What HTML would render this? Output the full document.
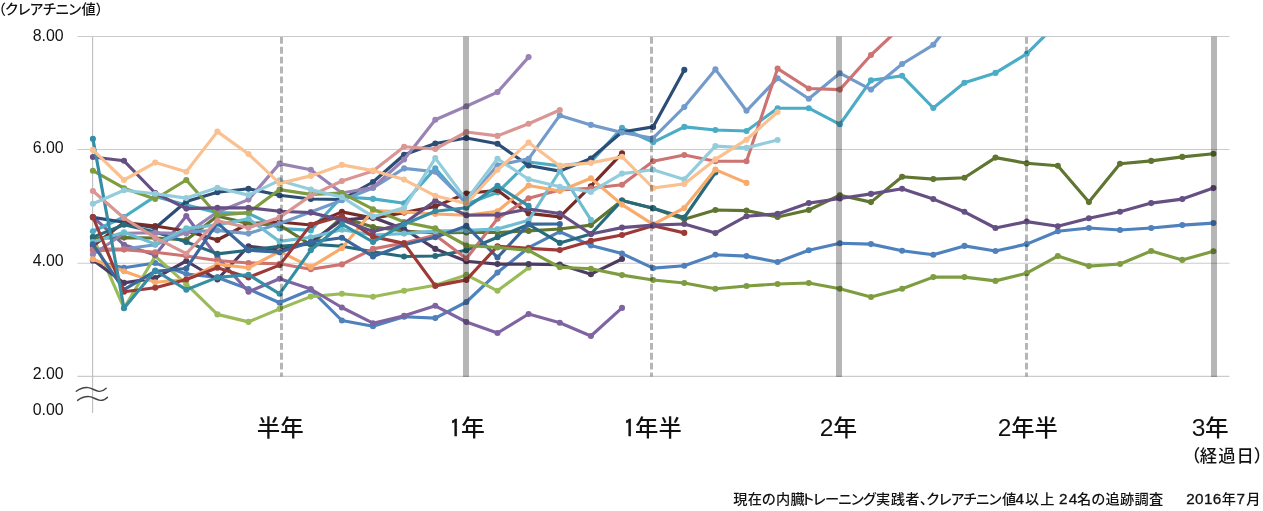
<!DOCTYPE html>
<html lang="ja"><head><meta charset="utf-8"><title>クレアチニン値</title>
<style>
html,body{margin:0;padding:0;background:#fff}
body{width:1263px;height:511px;overflow:hidden;font-family:"Liberation Sans","Noto Sans CJK JP",sans-serif}
svg{display:block}
text{fill:#111}
.jp{font-family:"Liberation Sans","Noto Sans CJK JP",sans-serif}
.num{font-family:"Liberation Sans","Noto Sans CJK JP",sans-serif}
</style></head><body>
<svg width="1263" height="511" viewBox="0 0 1263 511">
<defs><clipPath id="plot"><rect x="70" y="36.5" width="1180" height="360"/></clipPath></defs>
<rect width="1263" height="511" fill="#fff"/>
<line x1="77.5" x2="1229.5" y1="36.5" y2="36.5" stroke="#cbcbcb" stroke-width="1.1"/>
<line x1="77.5" x2="1229.5" y1="149.5" y2="149.5" stroke="#cbcbcb" stroke-width="1.1"/>
<line x1="77.5" x2="1229.5" y1="263.2" y2="263.2" stroke="#cbcbcb" stroke-width="1.1"/>
<line x1="77.5" x2="1229.5" y1="376.4" y2="376.4" stroke="#cbcbcb" stroke-width="1.1"/>
<line x1="92.6" x2="92.6" y1="36.5" y2="413" stroke="#bdbdbd" stroke-width="1.1"/>
<g clip-path="url(#plot)" fill="none" stroke-width="3.15" stroke-linejoin="round" stroke-linecap="round">
<g stroke="#4F81BD" fill="#4F81BD"><polyline fill="none" points="92.9,261.0 124.0,267.8 155.2,263.0 186.3,274.0 217.4,277.4 248.5,289.0 279.6,302.7 310.8,289.7 341.9,320.5 373.0,326.3 404.1,316.8 435.3,318.1 466.4,302.0 497.5,272.6 528.6,247.7 559.8,231.7 590.9,245.4 622.0,253.6 653.1,268.1 684.3,265.8 715.4,254.8 746.5,256.1 777.6,262.0 808.8,250.2 839.9,243.3 871.0,244.1 902.1,250.7 933.3,254.8 964.4,245.9 995.5,251.0 1026.7,244.1 1057.8,231.3 1088.9,228.0 1120.0,230.0 1151.2,228.0 1182.3,225.1 1213.4,223.1"/><circle cx="92.9" cy="261.0" r="3.05" stroke="none"/><circle cx="124.0" cy="267.8" r="3.05" stroke="none"/><circle cx="155.2" cy="263.0" r="3.05" stroke="none"/><circle cx="186.3" cy="274.0" r="3.05" stroke="none"/><circle cx="217.4" cy="277.4" r="3.05" stroke="none"/><circle cx="248.5" cy="289.0" r="3.05" stroke="none"/><circle cx="279.6" cy="302.7" r="3.05" stroke="none"/><circle cx="310.8" cy="289.7" r="3.05" stroke="none"/><circle cx="341.9" cy="320.5" r="3.05" stroke="none"/><circle cx="373.0" cy="326.3" r="3.05" stroke="none"/><circle cx="404.1" cy="316.8" r="3.05" stroke="none"/><circle cx="435.3" cy="318.1" r="3.05" stroke="none"/><circle cx="466.4" cy="302.0" r="3.05" stroke="none"/><circle cx="497.5" cy="272.6" r="3.05" stroke="none"/><circle cx="528.6" cy="247.7" r="3.05" stroke="none"/><circle cx="559.8" cy="231.7" r="3.05" stroke="none"/><circle cx="590.9" cy="245.4" r="3.05" stroke="none"/><circle cx="622.0" cy="253.6" r="3.05" stroke="none"/><circle cx="653.1" cy="268.1" r="3.05" stroke="none"/><circle cx="684.3" cy="265.8" r="3.05" stroke="none"/><circle cx="715.4" cy="254.8" r="3.05" stroke="none"/><circle cx="746.5" cy="256.1" r="3.05" stroke="none"/><circle cx="777.6" cy="262.0" r="3.05" stroke="none"/><circle cx="808.8" cy="250.2" r="3.05" stroke="none"/><circle cx="839.9" cy="243.3" r="3.05" stroke="none"/><circle cx="871.0" cy="244.1" r="3.05" stroke="none"/><circle cx="902.1" cy="250.7" r="3.05" stroke="none"/><circle cx="933.3" cy="254.8" r="3.05" stroke="none"/><circle cx="964.4" cy="245.9" r="3.05" stroke="none"/><circle cx="995.5" cy="251.0" r="3.05" stroke="none"/><circle cx="1026.7" cy="244.1" r="3.05" stroke="none"/><circle cx="1057.8" cy="231.3" r="3.05" stroke="none"/><circle cx="1088.9" cy="228.0" r="3.05" stroke="none"/><circle cx="1120.0" cy="230.0" r="3.05" stroke="none"/><circle cx="1151.2" cy="228.0" r="3.05" stroke="none"/><circle cx="1182.3" cy="225.1" r="3.05" stroke="none"/><circle cx="1213.4" cy="223.1" r="3.05" stroke="none"/></g>
<g stroke="#9BBB59" fill="#9BBB59"><polyline fill="none" points="92.9,237.0 124.0,308.0 155.2,256.2 186.3,284.2 217.4,314.4 248.5,321.9 279.6,308.9 310.8,296.6 341.9,293.8 373.0,296.8 404.1,290.7 435.3,285.3 466.4,274.9 497.5,290.8 528.6,267.8"/><circle cx="92.9" cy="237.0" r="3.05" stroke="none"/><circle cx="124.0" cy="308.0" r="3.05" stroke="none"/><circle cx="155.2" cy="256.2" r="3.05" stroke="none"/><circle cx="186.3" cy="284.2" r="3.05" stroke="none"/><circle cx="217.4" cy="314.4" r="3.05" stroke="none"/><circle cx="248.5" cy="321.9" r="3.05" stroke="none"/><circle cx="279.6" cy="308.9" r="3.05" stroke="none"/><circle cx="310.8" cy="296.6" r="3.05" stroke="none"/><circle cx="341.9" cy="293.8" r="3.05" stroke="none"/><circle cx="373.0" cy="296.8" r="3.05" stroke="none"/><circle cx="404.1" cy="290.7" r="3.05" stroke="none"/><circle cx="435.3" cy="285.3" r="3.05" stroke="none"/><circle cx="466.4" cy="274.9" r="3.05" stroke="none"/><circle cx="497.5" cy="290.8" r="3.05" stroke="none"/><circle cx="528.6" cy="267.8" r="3.05" stroke="none"/></g>
<g stroke="#8064A2" fill="#8064A2"><polyline fill="none" points="92.9,217.0 124.0,244.8 155.2,255.0 186.3,216.0 217.4,257.1 248.5,291.8 279.6,278.8 310.8,289.0 341.9,307.5 373.0,323.2 404.1,315.8 435.3,305.8 466.4,322.0 497.5,333.0 528.6,314.0 559.8,322.7 590.9,336.0 622.0,307.9"/><circle cx="92.9" cy="217.0" r="3.05" stroke="none"/><circle cx="124.0" cy="244.8" r="3.05" stroke="none"/><circle cx="155.2" cy="255.0" r="3.05" stroke="none"/><circle cx="186.3" cy="216.0" r="3.05" stroke="none"/><circle cx="217.4" cy="257.1" r="3.05" stroke="none"/><circle cx="248.5" cy="291.8" r="3.05" stroke="none"/><circle cx="279.6" cy="278.8" r="3.05" stroke="none"/><circle cx="310.8" cy="289.0" r="3.05" stroke="none"/><circle cx="341.9" cy="307.5" r="3.05" stroke="none"/><circle cx="373.0" cy="323.2" r="3.05" stroke="none"/><circle cx="404.1" cy="315.8" r="3.05" stroke="none"/><circle cx="435.3" cy="305.8" r="3.05" stroke="none"/><circle cx="466.4" cy="322.0" r="3.05" stroke="none"/><circle cx="497.5" cy="333.0" r="3.05" stroke="none"/><circle cx="528.6" cy="314.0" r="3.05" stroke="none"/><circle cx="559.8" cy="322.7" r="3.05" stroke="none"/><circle cx="590.9" cy="336.0" r="3.05" stroke="none"/><circle cx="622.0" cy="307.9" r="3.05" stroke="none"/></g>
<g stroke="#4BACC6" fill="#4BACC6"><polyline fill="none" points="92.9,231.2 124.0,217.0 155.2,196.4 186.3,205.0 217.4,212.6 248.5,213.3 279.6,228.4 310.8,230.4 341.9,196.8 373.0,198.9 404.1,203.3 435.3,168.4 466.4,204.0 497.5,192.5 528.6,162.0 559.8,165.9 590.9,162.0 622.0,127.9 653.1,142.3 684.3,126.9 715.4,130.0 746.5,131.0 777.6,108.2 808.8,108.2 839.9,124.3 871.0,80.4 902.1,75.8 933.3,108.0 964.4,82.7 995.5,72.9 1026.7,53.8 1057.8,22.8"/><circle cx="92.9" cy="231.2" r="3.05" stroke="none"/><circle cx="124.0" cy="217.0" r="3.05" stroke="none"/><circle cx="155.2" cy="196.4" r="3.05" stroke="none"/><circle cx="186.3" cy="205.0" r="3.05" stroke="none"/><circle cx="217.4" cy="212.6" r="3.05" stroke="none"/><circle cx="248.5" cy="213.3" r="3.05" stroke="none"/><circle cx="279.6" cy="228.4" r="3.05" stroke="none"/><circle cx="310.8" cy="230.4" r="3.05" stroke="none"/><circle cx="341.9" cy="196.8" r="3.05" stroke="none"/><circle cx="373.0" cy="198.9" r="3.05" stroke="none"/><circle cx="404.1" cy="203.3" r="3.05" stroke="none"/><circle cx="435.3" cy="168.4" r="3.05" stroke="none"/><circle cx="466.4" cy="204.0" r="3.05" stroke="none"/><circle cx="497.5" cy="192.5" r="3.05" stroke="none"/><circle cx="528.6" cy="162.0" r="3.05" stroke="none"/><circle cx="559.8" cy="165.9" r="3.05" stroke="none"/><circle cx="590.9" cy="162.0" r="3.05" stroke="none"/><circle cx="622.0" cy="127.9" r="3.05" stroke="none"/><circle cx="653.1" cy="142.3" r="3.05" stroke="none"/><circle cx="684.3" cy="126.9" r="3.05" stroke="none"/><circle cx="715.4" cy="130.0" r="3.05" stroke="none"/><circle cx="746.5" cy="131.0" r="3.05" stroke="none"/><circle cx="777.6" cy="108.2" r="3.05" stroke="none"/><circle cx="808.8" cy="108.2" r="3.05" stroke="none"/><circle cx="839.9" cy="124.3" r="3.05" stroke="none"/><circle cx="871.0" cy="80.4" r="3.05" stroke="none"/><circle cx="902.1" cy="75.8" r="3.05" stroke="none"/><circle cx="933.3" cy="108.0" r="3.05" stroke="none"/><circle cx="964.4" cy="82.7" r="3.05" stroke="none"/><circle cx="995.5" cy="72.9" r="3.05" stroke="none"/><circle cx="1026.7" cy="53.8" r="3.05" stroke="none"/><circle cx="1057.8" cy="22.8" r="3.05" stroke="none"/></g>
<g stroke="#2C4D75" fill="#2C4D75"><polyline fill="none" points="92.9,217.4 124.0,222.2 155.2,228.0 186.3,201.5 217.4,192.3 248.5,188.7 279.6,195.3 310.8,199.0 341.9,199.5 373.0,182.0 404.1,154.7 435.3,143.5 466.4,138.0 497.5,143.8 528.6,165.5 559.8,171.1 590.9,158.5 622.0,132.0 653.1,126.9 684.3,69.9"/><circle cx="92.9" cy="217.4" r="3.05" stroke="none"/><circle cx="124.0" cy="222.2" r="3.05" stroke="none"/><circle cx="155.2" cy="228.0" r="3.05" stroke="none"/><circle cx="186.3" cy="201.5" r="3.05" stroke="none"/><circle cx="217.4" cy="192.3" r="3.05" stroke="none"/><circle cx="248.5" cy="188.7" r="3.05" stroke="none"/><circle cx="279.6" cy="195.3" r="3.05" stroke="none"/><circle cx="310.8" cy="199.0" r="3.05" stroke="none"/><circle cx="341.9" cy="199.5" r="3.05" stroke="none"/><circle cx="373.0" cy="182.0" r="3.05" stroke="none"/><circle cx="404.1" cy="154.7" r="3.05" stroke="none"/><circle cx="435.3" cy="143.5" r="3.05" stroke="none"/><circle cx="466.4" cy="138.0" r="3.05" stroke="none"/><circle cx="497.5" cy="143.8" r="3.05" stroke="none"/><circle cx="528.6" cy="165.5" r="3.05" stroke="none"/><circle cx="559.8" cy="171.1" r="3.05" stroke="none"/><circle cx="590.9" cy="158.5" r="3.05" stroke="none"/><circle cx="622.0" cy="132.0" r="3.05" stroke="none"/><circle cx="653.1" cy="126.9" r="3.05" stroke="none"/><circle cx="684.3" cy="69.9" r="3.05" stroke="none"/></g>
<g stroke="#772C2A" fill="#772C2A"><polyline fill="none" points="92.9,246.0 124.0,222.6 155.2,226.0 186.3,231.0 217.4,240.0 248.5,223.5 279.6,222.0 310.8,225.0 341.9,211.9 373.0,218.1 404.1,212.6 435.3,206.4 466.4,193.5 497.5,190.3 528.6,213.4 559.8,216.9 590.9,186.2 622.0,153.3"/><circle cx="92.9" cy="246.0" r="3.05" stroke="none"/><circle cx="124.0" cy="222.6" r="3.05" stroke="none"/><circle cx="155.2" cy="226.0" r="3.05" stroke="none"/><circle cx="186.3" cy="231.0" r="3.05" stroke="none"/><circle cx="217.4" cy="240.0" r="3.05" stroke="none"/><circle cx="248.5" cy="223.5" r="3.05" stroke="none"/><circle cx="279.6" cy="222.0" r="3.05" stroke="none"/><circle cx="310.8" cy="225.0" r="3.05" stroke="none"/><circle cx="341.9" cy="211.9" r="3.05" stroke="none"/><circle cx="373.0" cy="218.1" r="3.05" stroke="none"/><circle cx="404.1" cy="212.6" r="3.05" stroke="none"/><circle cx="435.3" cy="206.4" r="3.05" stroke="none"/><circle cx="466.4" cy="193.5" r="3.05" stroke="none"/><circle cx="497.5" cy="190.3" r="3.05" stroke="none"/><circle cx="528.6" cy="213.4" r="3.05" stroke="none"/><circle cx="559.8" cy="216.9" r="3.05" stroke="none"/><circle cx="590.9" cy="186.2" r="3.05" stroke="none"/><circle cx="622.0" cy="153.3" r="3.05" stroke="none"/></g>
<g stroke="#5F7530" fill="#5F7530"><polyline fill="none" points="92.9,238.0 124.0,237.6 155.2,238.0 186.3,240.0 217.4,216.0 248.5,223.6 279.6,225.0 310.8,244.8 341.9,217.4 373.0,227.0 404.1,231.0 435.3,233.0 466.4,232.5 497.5,232.5 528.6,230.9 559.8,229.0 590.9,225.1 622.0,200.5 653.1,208.3 684.3,219.2 715.4,210.0 746.5,210.6 777.6,217.0 808.8,210.0 839.9,195.2 871.0,202.1 902.1,176.8 933.3,179.1 964.4,177.8 995.5,157.6 1026.7,163.2 1057.8,165.8 1088.9,202.1 1120.0,163.8 1151.2,160.9 1182.3,156.9 1213.4,153.8"/><circle cx="92.9" cy="238.0" r="3.05" stroke="none"/><circle cx="124.0" cy="237.6" r="3.05" stroke="none"/><circle cx="155.2" cy="238.0" r="3.05" stroke="none"/><circle cx="186.3" cy="240.0" r="3.05" stroke="none"/><circle cx="217.4" cy="216.0" r="3.05" stroke="none"/><circle cx="248.5" cy="223.6" r="3.05" stroke="none"/><circle cx="279.6" cy="225.0" r="3.05" stroke="none"/><circle cx="310.8" cy="244.8" r="3.05" stroke="none"/><circle cx="341.9" cy="217.4" r="3.05" stroke="none"/><circle cx="373.0" cy="227.0" r="3.05" stroke="none"/><circle cx="404.1" cy="231.0" r="3.05" stroke="none"/><circle cx="435.3" cy="233.0" r="3.05" stroke="none"/><circle cx="466.4" cy="232.5" r="3.05" stroke="none"/><circle cx="497.5" cy="232.5" r="3.05" stroke="none"/><circle cx="528.6" cy="230.9" r="3.05" stroke="none"/><circle cx="559.8" cy="229.0" r="3.05" stroke="none"/><circle cx="590.9" cy="225.1" r="3.05" stroke="none"/><circle cx="622.0" cy="200.5" r="3.05" stroke="none"/><circle cx="653.1" cy="208.3" r="3.05" stroke="none"/><circle cx="684.3" cy="219.2" r="3.05" stroke="none"/><circle cx="715.4" cy="210.0" r="3.05" stroke="none"/><circle cx="746.5" cy="210.6" r="3.05" stroke="none"/><circle cx="777.6" cy="217.0" r="3.05" stroke="none"/><circle cx="808.8" cy="210.0" r="3.05" stroke="none"/><circle cx="839.9" cy="195.2" r="3.05" stroke="none"/><circle cx="871.0" cy="202.1" r="3.05" stroke="none"/><circle cx="902.1" cy="176.8" r="3.05" stroke="none"/><circle cx="933.3" cy="179.1" r="3.05" stroke="none"/><circle cx="964.4" cy="177.8" r="3.05" stroke="none"/><circle cx="995.5" cy="157.6" r="3.05" stroke="none"/><circle cx="1026.7" cy="163.2" r="3.05" stroke="none"/><circle cx="1057.8" cy="165.8" r="3.05" stroke="none"/><circle cx="1088.9" cy="202.1" r="3.05" stroke="none"/><circle cx="1120.0" cy="163.8" r="3.05" stroke="none"/><circle cx="1151.2" cy="160.9" r="3.05" stroke="none"/><circle cx="1182.3" cy="156.9" r="3.05" stroke="none"/><circle cx="1213.4" cy="153.8" r="3.05" stroke="none"/></g>
<g stroke="#4D3B62" fill="#4D3B62"><polyline fill="none" points="92.9,260.0 124.0,282.9 155.2,278.1 186.3,261.0 217.4,279.5 248.5,246.2 279.6,250.0 310.8,242.0 341.9,220.0 373.0,217.4 404.1,229.0 435.3,248.9 466.4,261.2 497.5,264.1 528.6,264.1 559.8,264.6 590.9,274.2 622.0,259.0"/><circle cx="92.9" cy="260.0" r="3.05" stroke="none"/><circle cx="124.0" cy="282.9" r="3.05" stroke="none"/><circle cx="155.2" cy="278.1" r="3.05" stroke="none"/><circle cx="186.3" cy="261.0" r="3.05" stroke="none"/><circle cx="217.4" cy="279.5" r="3.05" stroke="none"/><circle cx="248.5" cy="246.2" r="3.05" stroke="none"/><circle cx="279.6" cy="250.0" r="3.05" stroke="none"/><circle cx="310.8" cy="242.0" r="3.05" stroke="none"/><circle cx="341.9" cy="220.0" r="3.05" stroke="none"/><circle cx="373.0" cy="217.4" r="3.05" stroke="none"/><circle cx="404.1" cy="229.0" r="3.05" stroke="none"/><circle cx="435.3" cy="248.9" r="3.05" stroke="none"/><circle cx="466.4" cy="261.2" r="3.05" stroke="none"/><circle cx="497.5" cy="264.1" r="3.05" stroke="none"/><circle cx="528.6" cy="264.1" r="3.05" stroke="none"/><circle cx="559.8" cy="264.6" r="3.05" stroke="none"/><circle cx="590.9" cy="274.2" r="3.05" stroke="none"/><circle cx="622.0" cy="259.0" r="3.05" stroke="none"/></g>
<g stroke="#276A7C" fill="#276A7C"><polyline fill="none" points="92.9,237.1 124.0,224.8 155.2,232.0 186.3,242.0 217.4,253.9 248.5,250.3 279.6,246.2 310.8,244.1 341.9,246.2 373.0,251.8 404.1,256.5 435.3,256.0 466.4,250.3 497.5,237.3 528.6,224.5 559.8,242.9 590.9,234.0 622.0,200.5 653.1,208.2 684.3,217.5 715.4,172.5"/><circle cx="92.9" cy="237.1" r="3.05" stroke="none"/><circle cx="124.0" cy="224.8" r="3.05" stroke="none"/><circle cx="155.2" cy="232.0" r="3.05" stroke="none"/><circle cx="186.3" cy="242.0" r="3.05" stroke="none"/><circle cx="217.4" cy="253.9" r="3.05" stroke="none"/><circle cx="248.5" cy="250.3" r="3.05" stroke="none"/><circle cx="279.6" cy="246.2" r="3.05" stroke="none"/><circle cx="310.8" cy="244.1" r="3.05" stroke="none"/><circle cx="341.9" cy="246.2" r="3.05" stroke="none"/><circle cx="373.0" cy="251.8" r="3.05" stroke="none"/><circle cx="404.1" cy="256.5" r="3.05" stroke="none"/><circle cx="435.3" cy="256.0" r="3.05" stroke="none"/><circle cx="466.4" cy="250.3" r="3.05" stroke="none"/><circle cx="497.5" cy="237.3" r="3.05" stroke="none"/><circle cx="528.6" cy="224.5" r="3.05" stroke="none"/><circle cx="559.8" cy="242.9" r="3.05" stroke="none"/><circle cx="590.9" cy="234.0" r="3.05" stroke="none"/><circle cx="622.0" cy="200.5" r="3.05" stroke="none"/><circle cx="653.1" cy="208.2" r="3.05" stroke="none"/><circle cx="684.3" cy="217.5" r="3.05" stroke="none"/><circle cx="715.4" cy="172.5" r="3.05" stroke="none"/></g>
<g stroke="#729ACA" fill="#729ACA"><polyline fill="none" points="92.9,249.0 124.0,249.0 155.2,244.8 186.3,232.0 217.4,230.4 248.5,233.6 279.6,223.6 310.8,212.0 341.9,200.3 373.0,188.0 404.1,168.4 435.3,171.8 466.4,202.6 497.5,165.3 528.6,158.8 559.8,115.4 590.9,124.9 622.0,132.5 653.1,138.2 684.3,107.0 715.4,69.4 746.5,110.8 777.6,78.3 808.8,98.8 839.9,73.2 871.0,89.6 902.1,64.0 933.3,44.8 964.4,5.0"/><circle cx="92.9" cy="249.0" r="3.05" stroke="none"/><circle cx="124.0" cy="249.0" r="3.05" stroke="none"/><circle cx="155.2" cy="244.8" r="3.05" stroke="none"/><circle cx="186.3" cy="232.0" r="3.05" stroke="none"/><circle cx="217.4" cy="230.4" r="3.05" stroke="none"/><circle cx="248.5" cy="233.6" r="3.05" stroke="none"/><circle cx="279.6" cy="223.6" r="3.05" stroke="none"/><circle cx="310.8" cy="212.0" r="3.05" stroke="none"/><circle cx="341.9" cy="200.3" r="3.05" stroke="none"/><circle cx="373.0" cy="188.0" r="3.05" stroke="none"/><circle cx="404.1" cy="168.4" r="3.05" stroke="none"/><circle cx="435.3" cy="171.8" r="3.05" stroke="none"/><circle cx="466.4" cy="202.6" r="3.05" stroke="none"/><circle cx="497.5" cy="165.3" r="3.05" stroke="none"/><circle cx="528.6" cy="158.8" r="3.05" stroke="none"/><circle cx="559.8" cy="115.4" r="3.05" stroke="none"/><circle cx="590.9" cy="124.9" r="3.05" stroke="none"/><circle cx="622.0" cy="132.5" r="3.05" stroke="none"/><circle cx="653.1" cy="138.2" r="3.05" stroke="none"/><circle cx="684.3" cy="107.0" r="3.05" stroke="none"/><circle cx="715.4" cy="69.4" r="3.05" stroke="none"/><circle cx="746.5" cy="110.8" r="3.05" stroke="none"/><circle cx="777.6" cy="78.3" r="3.05" stroke="none"/><circle cx="808.8" cy="98.8" r="3.05" stroke="none"/><circle cx="839.9" cy="73.2" r="3.05" stroke="none"/><circle cx="871.0" cy="89.6" r="3.05" stroke="none"/><circle cx="902.1" cy="64.0" r="3.05" stroke="none"/><circle cx="933.3" cy="44.8" r="3.05" stroke="none"/><circle cx="964.4" cy="5.0" r="3.05" stroke="none"/></g>
<g stroke="#CD7371" fill="#CD7371"><polyline fill="none" points="92.9,250.6 124.0,249.6 155.2,252.2 186.3,256.0 217.4,260.5 248.5,263.0 279.6,263.7 310.8,269.2 341.9,264.4 373.0,248.9 404.1,243.0 435.3,235.2 466.4,258.5 497.5,218.8 528.6,198.2 559.8,190.0 590.9,188.2 622.0,184.8 653.1,161.2 684.3,155.0 715.4,161.2 746.5,161.2 777.6,68.6 808.8,88.5 839.9,89.6 871.0,55.0 902.1,25.8"/><circle cx="92.9" cy="250.6" r="3.05" stroke="none"/><circle cx="124.0" cy="249.6" r="3.05" stroke="none"/><circle cx="155.2" cy="252.2" r="3.05" stroke="none"/><circle cx="186.3" cy="256.0" r="3.05" stroke="none"/><circle cx="217.4" cy="260.5" r="3.05" stroke="none"/><circle cx="248.5" cy="263.0" r="3.05" stroke="none"/><circle cx="279.6" cy="263.7" r="3.05" stroke="none"/><circle cx="310.8" cy="269.2" r="3.05" stroke="none"/><circle cx="341.9" cy="264.4" r="3.05" stroke="none"/><circle cx="373.0" cy="248.9" r="3.05" stroke="none"/><circle cx="404.1" cy="243.0" r="3.05" stroke="none"/><circle cx="435.3" cy="235.2" r="3.05" stroke="none"/><circle cx="466.4" cy="258.5" r="3.05" stroke="none"/><circle cx="497.5" cy="218.8" r="3.05" stroke="none"/><circle cx="528.6" cy="198.2" r="3.05" stroke="none"/><circle cx="559.8" cy="190.0" r="3.05" stroke="none"/><circle cx="590.9" cy="188.2" r="3.05" stroke="none"/><circle cx="622.0" cy="184.8" r="3.05" stroke="none"/><circle cx="653.1" cy="161.2" r="3.05" stroke="none"/><circle cx="684.3" cy="155.0" r="3.05" stroke="none"/><circle cx="715.4" cy="161.2" r="3.05" stroke="none"/><circle cx="746.5" cy="161.2" r="3.05" stroke="none"/><circle cx="777.6" cy="68.6" r="3.05" stroke="none"/><circle cx="808.8" cy="88.5" r="3.05" stroke="none"/><circle cx="839.9" cy="89.6" r="3.05" stroke="none"/><circle cx="871.0" cy="55.0" r="3.05" stroke="none"/><circle cx="902.1" cy="25.8" r="3.05" stroke="none"/></g>
<g stroke="#9983B5" fill="#9983B5"><polyline fill="none" points="92.9,254.5 124.0,233.2 155.2,232.8 186.3,233.6 217.4,212.0 248.5,199.6 279.6,163.6 310.8,169.7 341.9,193.0 373.0,187.5 404.1,159.5 435.3,119.7 466.4,106.2 497.5,92.1 528.6,57.1"/><circle cx="92.9" cy="254.5" r="3.05" stroke="none"/><circle cx="124.0" cy="233.2" r="3.05" stroke="none"/><circle cx="155.2" cy="232.8" r="3.05" stroke="none"/><circle cx="186.3" cy="233.6" r="3.05" stroke="none"/><circle cx="217.4" cy="212.0" r="3.05" stroke="none"/><circle cx="248.5" cy="199.6" r="3.05" stroke="none"/><circle cx="279.6" cy="163.6" r="3.05" stroke="none"/><circle cx="310.8" cy="169.7" r="3.05" stroke="none"/><circle cx="341.9" cy="193.0" r="3.05" stroke="none"/><circle cx="373.0" cy="187.5" r="3.05" stroke="none"/><circle cx="404.1" cy="159.5" r="3.05" stroke="none"/><circle cx="435.3" cy="119.7" r="3.05" stroke="none"/><circle cx="466.4" cy="106.2" r="3.05" stroke="none"/><circle cx="497.5" cy="92.1" r="3.05" stroke="none"/><circle cx="528.6" cy="57.1" r="3.05" stroke="none"/></g>
<g stroke="#6FBDD1" fill="#6FBDD1"><polyline fill="none" points="92.9,242.0 124.0,232.3 155.2,244.1 186.3,228.4 217.4,224.9 248.5,218.8 279.6,241.4 310.8,237.3 341.9,229.7 373.0,235.0 404.1,233.6 435.3,231.1 466.4,230.4 497.5,229.0 528.6,220.3 559.8,171.0 590.9,219.9"/><circle cx="92.9" cy="242.0" r="3.05" stroke="none"/><circle cx="124.0" cy="232.3" r="3.05" stroke="none"/><circle cx="155.2" cy="244.1" r="3.05" stroke="none"/><circle cx="186.3" cy="228.4" r="3.05" stroke="none"/><circle cx="217.4" cy="224.9" r="3.05" stroke="none"/><circle cx="248.5" cy="218.8" r="3.05" stroke="none"/><circle cx="279.6" cy="241.4" r="3.05" stroke="none"/><circle cx="310.8" cy="237.3" r="3.05" stroke="none"/><circle cx="341.9" cy="229.7" r="3.05" stroke="none"/><circle cx="373.0" cy="235.0" r="3.05" stroke="none"/><circle cx="404.1" cy="233.6" r="3.05" stroke="none"/><circle cx="435.3" cy="231.1" r="3.05" stroke="none"/><circle cx="466.4" cy="230.4" r="3.05" stroke="none"/><circle cx="497.5" cy="229.0" r="3.05" stroke="none"/><circle cx="528.6" cy="220.3" r="3.05" stroke="none"/><circle cx="559.8" cy="171.0" r="3.05" stroke="none"/><circle cx="590.9" cy="219.9" r="3.05" stroke="none"/></g>
<g stroke="#F9AB6B" fill="#F9AB6B"><polyline fill="none" points="92.9,259.3 124.0,271.2 155.2,282.2 186.3,279.5 217.4,264.4 248.5,267.8 279.6,251.4 310.8,267.1 341.9,248.2 373.0,210.5 404.1,211.9 435.3,214.0 466.4,215.3 497.5,211.2 528.6,185.5 559.8,191.0 590.9,178.2 622.0,204.6 653.1,224.3 684.3,208.0 715.4,169.6 746.5,182.9"/><circle cx="92.9" cy="259.3" r="3.05" stroke="none"/><circle cx="124.0" cy="271.2" r="3.05" stroke="none"/><circle cx="155.2" cy="282.2" r="3.05" stroke="none"/><circle cx="186.3" cy="279.5" r="3.05" stroke="none"/><circle cx="217.4" cy="264.4" r="3.05" stroke="none"/><circle cx="248.5" cy="267.8" r="3.05" stroke="none"/><circle cx="279.6" cy="251.4" r="3.05" stroke="none"/><circle cx="310.8" cy="267.1" r="3.05" stroke="none"/><circle cx="341.9" cy="248.2" r="3.05" stroke="none"/><circle cx="373.0" cy="210.5" r="3.05" stroke="none"/><circle cx="404.1" cy="211.9" r="3.05" stroke="none"/><circle cx="435.3" cy="214.0" r="3.05" stroke="none"/><circle cx="466.4" cy="215.3" r="3.05" stroke="none"/><circle cx="497.5" cy="211.2" r="3.05" stroke="none"/><circle cx="528.6" cy="185.5" r="3.05" stroke="none"/><circle cx="559.8" cy="191.0" r="3.05" stroke="none"/><circle cx="590.9" cy="178.2" r="3.05" stroke="none"/><circle cx="622.0" cy="204.6" r="3.05" stroke="none"/><circle cx="653.1" cy="224.3" r="3.05" stroke="none"/><circle cx="684.3" cy="208.0" r="3.05" stroke="none"/><circle cx="715.4" cy="169.6" r="3.05" stroke="none"/><circle cx="746.5" cy="182.9" r="3.05" stroke="none"/></g>
<g stroke="#3A679C" fill="#3A679C"><polyline fill="none" points="92.9,244.3 124.0,289.7 155.2,271.2 186.3,268.5 217.4,222.9 248.5,250.3 279.6,252.3 310.8,242.0 341.9,237.7 373.0,256.5 404.1,244.8 435.3,237.3 466.4,225.9 497.5,257.5 528.6,224.1 559.8,224.0"/><circle cx="92.9" cy="244.3" r="3.05" stroke="none"/><circle cx="124.0" cy="289.7" r="3.05" stroke="none"/><circle cx="155.2" cy="271.2" r="3.05" stroke="none"/><circle cx="186.3" cy="268.5" r="3.05" stroke="none"/><circle cx="217.4" cy="222.9" r="3.05" stroke="none"/><circle cx="248.5" cy="250.3" r="3.05" stroke="none"/><circle cx="279.6" cy="252.3" r="3.05" stroke="none"/><circle cx="310.8" cy="242.0" r="3.05" stroke="none"/><circle cx="341.9" cy="237.7" r="3.05" stroke="none"/><circle cx="373.0" cy="256.5" r="3.05" stroke="none"/><circle cx="404.1" cy="244.8" r="3.05" stroke="none"/><circle cx="435.3" cy="237.3" r="3.05" stroke="none"/><circle cx="466.4" cy="225.9" r="3.05" stroke="none"/><circle cx="497.5" cy="257.5" r="3.05" stroke="none"/><circle cx="528.6" cy="224.1" r="3.05" stroke="none"/><circle cx="559.8" cy="224.0" r="3.05" stroke="none"/></g>
<g stroke="#9C3A38" fill="#9C3A38"><polyline fill="none" points="92.9,217.0 124.0,291.8 155.2,287.7 186.3,279.5 217.4,267.8 248.5,277.4 279.6,265.1 310.8,224.9 341.9,216.0 373.0,236.6 404.1,243.4 435.3,285.9 466.4,279.9 497.5,246.2 528.6,248.4 559.8,250.1 590.9,240.9 622.0,235.0 653.1,225.8 684.3,232.9"/><circle cx="92.9" cy="217.0" r="3.05" stroke="none"/><circle cx="124.0" cy="291.8" r="3.05" stroke="none"/><circle cx="155.2" cy="287.7" r="3.05" stroke="none"/><circle cx="186.3" cy="279.5" r="3.05" stroke="none"/><circle cx="217.4" cy="267.8" r="3.05" stroke="none"/><circle cx="248.5" cy="277.4" r="3.05" stroke="none"/><circle cx="279.6" cy="265.1" r="3.05" stroke="none"/><circle cx="310.8" cy="224.9" r="3.05" stroke="none"/><circle cx="341.9" cy="216.0" r="3.05" stroke="none"/><circle cx="373.0" cy="236.6" r="3.05" stroke="none"/><circle cx="404.1" cy="243.4" r="3.05" stroke="none"/><circle cx="435.3" cy="285.9" r="3.05" stroke="none"/><circle cx="466.4" cy="279.9" r="3.05" stroke="none"/><circle cx="497.5" cy="246.2" r="3.05" stroke="none"/><circle cx="528.6" cy="248.4" r="3.05" stroke="none"/><circle cx="559.8" cy="250.1" r="3.05" stroke="none"/><circle cx="590.9" cy="240.9" r="3.05" stroke="none"/><circle cx="622.0" cy="235.0" r="3.05" stroke="none"/><circle cx="653.1" cy="225.8" r="3.05" stroke="none"/><circle cx="684.3" cy="232.9" r="3.05" stroke="none"/></g>
<g stroke="#7E9D40" fill="#7E9D40"><polyline fill="none" points="92.9,170.7 124.0,188.2 155.2,199.0 186.3,180.0 217.4,215.3 248.5,212.6 279.6,189.6 310.8,194.4 341.9,193.1 373.0,209.2 404.1,222.0 435.3,228.4 466.4,245.5 497.5,247.5 528.6,250.4 559.8,267.3 590.9,268.7 622.0,275.1 653.1,280.0 684.3,283.0 715.4,288.8 746.5,286.0 777.6,284.0 808.8,283.0 839.9,288.8 871.0,297.0 902.1,288.8 933.3,277.1 964.4,277.1 995.5,280.9 1026.7,273.2 1057.8,256.1 1088.9,266.1 1120.0,264.0 1151.2,251.0 1182.3,259.9 1213.4,251.3"/><circle cx="92.9" cy="170.7" r="3.05" stroke="none"/><circle cx="124.0" cy="188.2" r="3.05" stroke="none"/><circle cx="155.2" cy="199.0" r="3.05" stroke="none"/><circle cx="186.3" cy="180.0" r="3.05" stroke="none"/><circle cx="217.4" cy="215.3" r="3.05" stroke="none"/><circle cx="248.5" cy="212.6" r="3.05" stroke="none"/><circle cx="279.6" cy="189.6" r="3.05" stroke="none"/><circle cx="310.8" cy="194.4" r="3.05" stroke="none"/><circle cx="341.9" cy="193.1" r="3.05" stroke="none"/><circle cx="373.0" cy="209.2" r="3.05" stroke="none"/><circle cx="404.1" cy="222.0" r="3.05" stroke="none"/><circle cx="435.3" cy="228.4" r="3.05" stroke="none"/><circle cx="466.4" cy="245.5" r="3.05" stroke="none"/><circle cx="497.5" cy="247.5" r="3.05" stroke="none"/><circle cx="528.6" cy="250.4" r="3.05" stroke="none"/><circle cx="559.8" cy="267.3" r="3.05" stroke="none"/><circle cx="590.9" cy="268.7" r="3.05" stroke="none"/><circle cx="622.0" cy="275.1" r="3.05" stroke="none"/><circle cx="653.1" cy="280.0" r="3.05" stroke="none"/><circle cx="684.3" cy="283.0" r="3.05" stroke="none"/><circle cx="715.4" cy="288.8" r="3.05" stroke="none"/><circle cx="746.5" cy="286.0" r="3.05" stroke="none"/><circle cx="777.6" cy="284.0" r="3.05" stroke="none"/><circle cx="808.8" cy="283.0" r="3.05" stroke="none"/><circle cx="839.9" cy="288.8" r="3.05" stroke="none"/><circle cx="871.0" cy="297.0" r="3.05" stroke="none"/><circle cx="902.1" cy="288.8" r="3.05" stroke="none"/><circle cx="933.3" cy="277.1" r="3.05" stroke="none"/><circle cx="964.4" cy="277.1" r="3.05" stroke="none"/><circle cx="995.5" cy="280.9" r="3.05" stroke="none"/><circle cx="1026.7" cy="273.2" r="3.05" stroke="none"/><circle cx="1057.8" cy="256.1" r="3.05" stroke="none"/><circle cx="1088.9" cy="266.1" r="3.05" stroke="none"/><circle cx="1120.0" cy="264.0" r="3.05" stroke="none"/><circle cx="1151.2" cy="251.0" r="3.05" stroke="none"/><circle cx="1182.3" cy="259.9" r="3.05" stroke="none"/><circle cx="1213.4" cy="251.3" r="3.05" stroke="none"/></g>
<g stroke="#664F83" fill="#664F83"><polyline fill="none" points="92.9,157.0 124.0,160.8 155.2,193.0 186.3,208.6 217.4,207.8 248.5,207.8 279.6,211.2 310.8,212.6 341.9,220.1 373.0,231.5 404.1,223.6 435.3,200.7 466.4,215.3 497.5,214.9 528.6,209.0 559.8,213.5 590.9,234.0 622.0,227.6 653.1,225.1 684.3,224.0 715.4,233.1 746.5,216.2 777.6,213.9 808.8,203.1 839.9,198.5 871.0,193.9 902.1,188.8 933.3,199.1 964.4,211.8 995.5,228.0 1026.7,221.6 1057.8,226.2 1088.9,218.2 1120.0,211.8 1151.2,203.1 1182.3,199.1 1213.4,188.1"/><circle cx="92.9" cy="157.0" r="3.05" stroke="none"/><circle cx="124.0" cy="160.8" r="3.05" stroke="none"/><circle cx="155.2" cy="193.0" r="3.05" stroke="none"/><circle cx="186.3" cy="208.6" r="3.05" stroke="none"/><circle cx="217.4" cy="207.8" r="3.05" stroke="none"/><circle cx="248.5" cy="207.8" r="3.05" stroke="none"/><circle cx="279.6" cy="211.2" r="3.05" stroke="none"/><circle cx="310.8" cy="212.6" r="3.05" stroke="none"/><circle cx="341.9" cy="220.1" r="3.05" stroke="none"/><circle cx="373.0" cy="231.5" r="3.05" stroke="none"/><circle cx="404.1" cy="223.6" r="3.05" stroke="none"/><circle cx="435.3" cy="200.7" r="3.05" stroke="none"/><circle cx="466.4" cy="215.3" r="3.05" stroke="none"/><circle cx="497.5" cy="214.9" r="3.05" stroke="none"/><circle cx="528.6" cy="209.0" r="3.05" stroke="none"/><circle cx="559.8" cy="213.5" r="3.05" stroke="none"/><circle cx="590.9" cy="234.0" r="3.05" stroke="none"/><circle cx="622.0" cy="227.6" r="3.05" stroke="none"/><circle cx="653.1" cy="225.1" r="3.05" stroke="none"/><circle cx="684.3" cy="224.0" r="3.05" stroke="none"/><circle cx="715.4" cy="233.1" r="3.05" stroke="none"/><circle cx="746.5" cy="216.2" r="3.05" stroke="none"/><circle cx="777.6" cy="213.9" r="3.05" stroke="none"/><circle cx="808.8" cy="203.1" r="3.05" stroke="none"/><circle cx="839.9" cy="198.5" r="3.05" stroke="none"/><circle cx="871.0" cy="193.9" r="3.05" stroke="none"/><circle cx="902.1" cy="188.8" r="3.05" stroke="none"/><circle cx="933.3" cy="199.1" r="3.05" stroke="none"/><circle cx="964.4" cy="211.8" r="3.05" stroke="none"/><circle cx="995.5" cy="228.0" r="3.05" stroke="none"/><circle cx="1026.7" cy="221.6" r="3.05" stroke="none"/><circle cx="1057.8" cy="226.2" r="3.05" stroke="none"/><circle cx="1088.9" cy="218.2" r="3.05" stroke="none"/><circle cx="1120.0" cy="211.8" r="3.05" stroke="none"/><circle cx="1151.2" cy="203.1" r="3.05" stroke="none"/><circle cx="1182.3" cy="199.1" r="3.05" stroke="none"/><circle cx="1213.4" cy="188.1" r="3.05" stroke="none"/></g>
<g stroke="#358EA6" fill="#358EA6"><polyline fill="none" points="92.9,138.9 124.0,308.2 155.2,270.5 186.3,289.7 217.4,277.4 248.5,274.7 279.6,293.8 310.8,250.2 341.9,224.2 373.0,242.0 404.1,224.2 435.3,211.2 466.4,207.8 497.5,185.9 528.6,205.9"/><circle cx="92.9" cy="138.9" r="3.05" stroke="none"/><circle cx="124.0" cy="308.2" r="3.05" stroke="none"/><circle cx="155.2" cy="270.5" r="3.05" stroke="none"/><circle cx="186.3" cy="289.7" r="3.05" stroke="none"/><circle cx="217.4" cy="277.4" r="3.05" stroke="none"/><circle cx="248.5" cy="274.7" r="3.05" stroke="none"/><circle cx="279.6" cy="293.8" r="3.05" stroke="none"/><circle cx="310.8" cy="250.2" r="3.05" stroke="none"/><circle cx="341.9" cy="224.2" r="3.05" stroke="none"/><circle cx="373.0" cy="242.0" r="3.05" stroke="none"/><circle cx="404.1" cy="224.2" r="3.05" stroke="none"/><circle cx="435.3" cy="211.2" r="3.05" stroke="none"/><circle cx="466.4" cy="207.8" r="3.05" stroke="none"/><circle cx="497.5" cy="185.9" r="3.05" stroke="none"/><circle cx="528.6" cy="205.9" r="3.05" stroke="none"/></g>
<g stroke="#D99694" fill="#D99694"><polyline fill="none" points="92.9,191.0 124.0,218.0 155.2,237.7 186.3,253.7 217.4,220.8 248.5,227.7 279.6,217.4 310.8,195.6 341.9,181.0 373.0,171.1 404.1,146.7 435.3,149.0 466.4,132.0 497.5,135.9 528.6,123.8 559.8,110.0"/><circle cx="92.9" cy="191.0" r="3.05" stroke="none"/><circle cx="124.0" cy="218.0" r="3.05" stroke="none"/><circle cx="155.2" cy="237.7" r="3.05" stroke="none"/><circle cx="186.3" cy="253.7" r="3.05" stroke="none"/><circle cx="217.4" cy="220.8" r="3.05" stroke="none"/><circle cx="248.5" cy="227.7" r="3.05" stroke="none"/><circle cx="279.6" cy="217.4" r="3.05" stroke="none"/><circle cx="310.8" cy="195.6" r="3.05" stroke="none"/><circle cx="341.9" cy="181.0" r="3.05" stroke="none"/><circle cx="373.0" cy="171.1" r="3.05" stroke="none"/><circle cx="404.1" cy="146.7" r="3.05" stroke="none"/><circle cx="435.3" cy="149.0" r="3.05" stroke="none"/><circle cx="466.4" cy="132.0" r="3.05" stroke="none"/><circle cx="497.5" cy="135.9" r="3.05" stroke="none"/><circle cx="528.6" cy="123.8" r="3.05" stroke="none"/><circle cx="559.8" cy="110.0" r="3.05" stroke="none"/></g>
<g stroke="#93CDDD" fill="#93CDDD"><polyline fill="none" points="92.9,203.7 124.0,190.3 155.2,193.7 186.3,198.1 217.4,187.8 248.5,195.1 279.6,180.4 310.8,189.6 341.9,197.1 373.0,216.7 404.1,207.8 435.3,158.1 466.4,200.0 497.5,158.8 528.6,179.3 559.8,186.8 590.9,191.9 622.0,173.6 653.1,169.8 684.3,179.4 715.4,146.1 746.5,147.9 777.6,140.0"/><circle cx="92.9" cy="203.7" r="3.05" stroke="none"/><circle cx="124.0" cy="190.3" r="3.05" stroke="none"/><circle cx="155.2" cy="193.7" r="3.05" stroke="none"/><circle cx="186.3" cy="198.1" r="3.05" stroke="none"/><circle cx="217.4" cy="187.8" r="3.05" stroke="none"/><circle cx="248.5" cy="195.1" r="3.05" stroke="none"/><circle cx="279.6" cy="180.4" r="3.05" stroke="none"/><circle cx="310.8" cy="189.6" r="3.05" stroke="none"/><circle cx="341.9" cy="197.1" r="3.05" stroke="none"/><circle cx="373.0" cy="216.7" r="3.05" stroke="none"/><circle cx="404.1" cy="207.8" r="3.05" stroke="none"/><circle cx="435.3" cy="158.1" r="3.05" stroke="none"/><circle cx="466.4" cy="200.0" r="3.05" stroke="none"/><circle cx="497.5" cy="158.8" r="3.05" stroke="none"/><circle cx="528.6" cy="179.3" r="3.05" stroke="none"/><circle cx="559.8" cy="186.8" r="3.05" stroke="none"/><circle cx="590.9" cy="191.9" r="3.05" stroke="none"/><circle cx="622.0" cy="173.6" r="3.05" stroke="none"/><circle cx="653.1" cy="169.8" r="3.05" stroke="none"/><circle cx="684.3" cy="179.4" r="3.05" stroke="none"/><circle cx="715.4" cy="146.1" r="3.05" stroke="none"/><circle cx="746.5" cy="147.9" r="3.05" stroke="none"/><circle cx="777.6" cy="140.0" r="3.05" stroke="none"/></g>
<g stroke="#FAC090" fill="#FAC090"><polyline fill="none" points="92.9,149.9 124.0,180.0 155.2,162.6 186.3,171.8 217.4,131.6 248.5,154.0 279.6,183.4 310.8,175.9 341.9,164.9 373.0,170.6 404.1,179.6 435.3,195.8 466.4,203.5 497.5,169.7 528.6,142.6 559.8,165.9 590.9,162.9 622.0,156.7 653.1,188.0 684.3,183.9 715.4,159.4 746.5,139.7 777.6,112.0"/><circle cx="92.9" cy="149.9" r="3.05" stroke="none"/><circle cx="124.0" cy="180.0" r="3.05" stroke="none"/><circle cx="155.2" cy="162.6" r="3.05" stroke="none"/><circle cx="186.3" cy="171.8" r="3.05" stroke="none"/><circle cx="217.4" cy="131.6" r="3.05" stroke="none"/><circle cx="248.5" cy="154.0" r="3.05" stroke="none"/><circle cx="279.6" cy="183.4" r="3.05" stroke="none"/><circle cx="310.8" cy="175.9" r="3.05" stroke="none"/><circle cx="341.9" cy="164.9" r="3.05" stroke="none"/><circle cx="373.0" cy="170.6" r="3.05" stroke="none"/><circle cx="404.1" cy="179.6" r="3.05" stroke="none"/><circle cx="435.3" cy="195.8" r="3.05" stroke="none"/><circle cx="466.4" cy="203.5" r="3.05" stroke="none"/><circle cx="497.5" cy="169.7" r="3.05" stroke="none"/><circle cx="528.6" cy="142.6" r="3.05" stroke="none"/><circle cx="559.8" cy="165.9" r="3.05" stroke="none"/><circle cx="590.9" cy="162.9" r="3.05" stroke="none"/><circle cx="622.0" cy="156.7" r="3.05" stroke="none"/><circle cx="653.1" cy="188.0" r="3.05" stroke="none"/><circle cx="684.3" cy="183.9" r="3.05" stroke="none"/><circle cx="715.4" cy="159.4" r="3.05" stroke="none"/><circle cx="746.5" cy="139.7" r="3.05" stroke="none"/><circle cx="777.6" cy="112.0" r="3.05" stroke="none"/></g>
</g>
<line x1="281.5" x2="281.5" y1="37" y2="376.4" stroke="#000" stroke-opacity="0.285" stroke-width="3" stroke-dasharray="6.8 3.07"/>
<line x1="651.5" x2="651.5" y1="37" y2="376.4" stroke="#000" stroke-opacity="0.285" stroke-width="3" stroke-dasharray="6.8 3.07"/>
<line x1="1026.5" x2="1026.5" y1="37" y2="376.4" stroke="#000" stroke-opacity="0.285" stroke-width="3" stroke-dasharray="6.8 3.07"/>
<line x1="466.0" x2="466.0" y1="36.5" y2="376.9" stroke="#000" stroke-opacity="0.285" stroke-width="6"/>
<line x1="839.0" x2="839.0" y1="36.5" y2="376.9" stroke="#000" stroke-opacity="0.285" stroke-width="6"/>
<line x1="1214.0" x2="1214.0" y1="36.5" y2="376.9" stroke="#000" stroke-opacity="0.285" stroke-width="6"/>
<g fill="none" stroke="#444" stroke-width="1.4" stroke-linecap="round"><path d="M76.3,391.3 C80,388.5 84,387.3 88,387.6 C92,388 95,391 99,391.4 C102,391.6 104.5,390 106.2,388.3"/><path d="M77.6,400.4 C81.3,397.6 85.3,396.3 89.3,396.6 C93.3,397 96.3,400 100.3,400.4 C103.3,400.6 105.8,399 107.5,397.2"/></g>
<text class="num" x="63.6" y="40.9" font-size="15.9" text-anchor="end">8.00</text>
<text class="num" x="63.6" y="153.4" font-size="15.9" text-anchor="end">6.00</text>
<text class="num" x="63.6" y="266.1" font-size="15.9" text-anchor="end">4.00</text>
<text class="num" x="63.6" y="379.0" font-size="15.9" text-anchor="end">2.00</text>
<text class="num" x="63.6" y="415.0" font-size="15.9" text-anchor="end">0.00</text>
<g><text class="jp" x="-1.63" y="14.0" font-size="14.2" font-weight="500" style="font-feature-settings:'palt'">（</text><text class="jp" x="5.20" y="14.0" font-size="14.2" font-weight="500" textLength="76.05" lengthAdjust="spacing" style="font-feature-settings:'palt'">クレアチニン</text><text class="jp" x="81.50" y="14.0" font-size="14.2" font-weight="500" style="font-feature-settings:'palt'">値</text><text class="jp" x="95.92" y="14.0" font-size="14.2" font-weight="500" style="font-feature-settings:'palt'">）</text></g>
<g><text x="256.81" y="435.7" font-size="22.2" font-weight="500" textLength="46.93" lengthAdjust="spacingAndGlyphs" style='font-family:"Liberation Sans","Noto Sans CJK JP",sans-serif'>半年</text><text x="449.56" y="436.9" font-size="23.75" font-weight="400" stroke="#111" stroke-width="0.55" style='font-family:"IPAGothic","Liberation Sans",sans-serif'>1</text><text x="461.10" y="435.7" font-size="22.2" font-weight="500" textLength="23.85" lengthAdjust="spacingAndGlyphs" style='font-family:"Liberation Sans","Noto Sans CJK JP",sans-serif'>年</text><text x="623.51" y="436.9" font-size="23.75" font-weight="400" stroke="#111" stroke-width="0.55" style='font-family:"IPAGothic","Liberation Sans",sans-serif'>1</text><text x="635.10" y="435.7" font-size="22.2" font-weight="500" textLength="46.67" lengthAdjust="spacingAndGlyphs" style='font-family:"Liberation Sans","Noto Sans CJK JP",sans-serif'>年半</text><text x="819.63" y="435.9" font-size="24.58" font-weight="400" style='font-family:"Liberation Sans","Noto Sans CJK JP",sans-serif'>2</text><text x="833.20" y="435.7" font-size="22.2" font-weight="500" textLength="23.85" lengthAdjust="spacingAndGlyphs" style='font-family:"Liberation Sans","Noto Sans CJK JP",sans-serif'>年</text><text x="997.63" y="435.9" font-size="24.58" font-weight="400" style='font-family:"Liberation Sans","Noto Sans CJK JP",sans-serif'>2</text><text x="1011.20" y="435.7" font-size="22.2" font-weight="500" textLength="46.67" lengthAdjust="spacingAndGlyphs" style='font-family:"Liberation Sans","Noto Sans CJK JP",sans-serif'>年半</text><text x="1191.69" y="436.1" font-size="24.6" font-weight="400" style='font-family:"Liberation Sans","Noto Sans CJK JP",sans-serif'>3</text><text x="1205.00" y="435.7" font-size="22.2" font-weight="500" textLength="23.66" lengthAdjust="spacingAndGlyphs" style='font-family:"Liberation Sans","Noto Sans CJK JP",sans-serif'>年</text></g>
<g><text class="jp" x="1190.98" y="462" font-size="17.3" font-weight="500" style="font-feature-settings:'palt'">（</text><text class="jp" x="1199.80" y="462" font-size="17.3" font-weight="500" textLength="53.95" lengthAdjust="spacing" style="font-feature-settings:'palt'">経過日</text><text class="jp" x="1254.39" y="462" font-size="17.3" font-weight="500" style="font-feature-settings:'palt'">）</text></g>
<g><text class="jp" x="733.20" y="503.7" font-size="14.2" font-weight="500" textLength="71.47" lengthAdjust="spacing" style="font-feature-settings:'palt'">現在の内臓</text><text class="jp" x="802.75" y="503.7" font-size="14.2" font-weight="500" textLength="73.24" lengthAdjust="spacing" style="font-feature-settings:'palt'">トレーニング</text><text class="jp" x="876.06" y="503.7" font-size="14.2" font-weight="500" textLength="50.80" lengthAdjust="spacing" style="font-feature-settings:'palt'">実践者、</text><text class="jp" x="926.50" y="503.7" font-size="14.2" font-weight="500" textLength="74.92" lengthAdjust="spacing" style="font-feature-settings:'palt'">クレアチニン</text><text class="jp" x="1001.95" y="503.7" font-size="14.2" font-weight="500" style="font-feature-settings:'palt'">値</text><text class="jp" x="1015.55" y="503.8" font-size="15.3" font-weight="500" stroke="#111" stroke-width="0.3" style="font-feature-settings:'palt'">4</text><text class="jp" x="1024.96" y="503.7" font-size="14.2" font-weight="500" textLength="29.37" lengthAdjust="spacing" style="font-feature-settings:'palt'">以上</text><text class="jp" x="1059.11" y="503.8" font-size="15.3" font-weight="500" textLength="18.27" lengthAdjust="spacing" stroke="#111" stroke-width="0.3" style="font-feature-settings:'palt'">24</text><text class="jp" x="1077.02" y="503.7" font-size="14.2" font-weight="500" textLength="86.22" lengthAdjust="spacing" style="font-feature-settings:'palt'">名の追跡調査</text><text class="jp" x="1186.22" y="503.8" font-size="15.3" font-weight="500" textLength="35.15" lengthAdjust="spacing" stroke="#111" stroke-width="0.3" style="font-feature-settings:'palt'">2016</text><text class="jp" x="1221.78" y="503.7" font-size="14.2" font-weight="500" style="font-feature-settings:'palt'">年</text><text class="jp" x="1236.53" y="503.8" font-size="15.3" font-weight="500" stroke="#111" stroke-width="0.3" style="font-feature-settings:'palt'">7</text><text class="jp" x="1246.14" y="503.7" font-size="14.2" font-weight="500" style="font-feature-settings:'palt'">月</text></g>
</svg></body></html>
